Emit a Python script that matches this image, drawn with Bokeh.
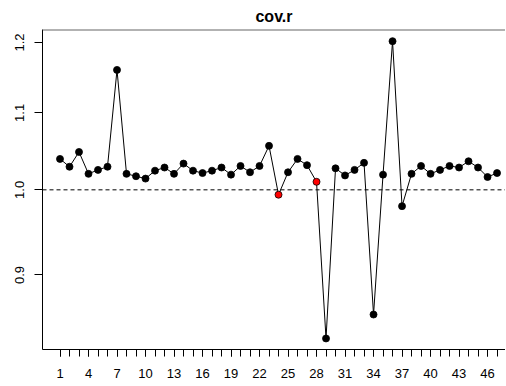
from bokeh.plotting import figure
from bokeh.models import FixedTicker, NumeralTickFormatter, Span, ColumnDataSource
from bokeh.embed import file_html
from bokeh.resources import INLINE

# ---- data ----
index = list(range(1, 48))
cov_r = [1.039, 1.029, 1.048, 1.020, 1.025, 1.029, 1.160, 1.020, 1.017, 1.014,
         1.024, 1.028, 1.020, 1.033, 1.024, 1.021, 1.024, 1.028, 1.019, 1.030,
         1.022, 1.030, 1.056, 0.994, 1.022, 1.039, 1.031, 1.010, 0.832, 1.027,
         1.018, 1.025, 1.034, 0.857, 1.019, 1.202, 0.980, 1.020, 1.030, 1.020,
         1.025, 1.030, 1.028, 1.036, 1.028, 1.016, 1.021]
flagged = [24, 28]
reference_value = 1.0
x_major_ticks = list(range(1, 48, 3))
x_minor_ticks = list(range(1, 48))
y_ticks = [0.9, 1.0, 1.1, 1.2]
title_text = "cov.r"

colors = ["red" if i in flagged else "black" for i in index]
src = ColumnDataSource(dict(x=index, y=cov_r, c=colors))

FONT = "Liberation Sans"
y_lo, y_hi = 0.8207, 1.2195

p = figure(frame_width=463, frame_height=320, output_backend="svg", toolbar_location=None,
           y_axis_type="log", x_range=(-0.842, 47.89), y_range=(y_lo, y_hi),
           min_border_left=42, min_border_right=0, min_border_top=22,
           min_border_bottom=34)
p.outline_line_color = None
p.xgrid.visible = False
p.ygrid.visible = False
p.background_fill_color = "white"
p.border_fill_color = "white"

p.title.text = title_text
p.title.align = "center"
p.title.text_font = FONT
p.title.text_font_size = "16px"
p.title.text_font_style = "bold"
p.title.text_color = "black"

# x axis
xa = p.xaxis[0]
xa.axis_label = None
xa.ticker = FixedTicker(ticks=x_major_ticks, minor_ticks=x_minor_ticks)
xa.axis_line_color = "black"
xa.major_tick_line_color = "black"
xa.minor_tick_line_color = "black"
xa.major_tick_out = 7
xa.major_tick_in = 0
xa.minor_tick_out = 7
xa.minor_tick_in = 0
xa.major_label_text_font = FONT
xa.major_label_text_font_size = "13px"
xa.major_label_text_color = "black"
xa.major_label_standoff = 12

# y axis
ya = p.yaxis[0]
ya.axis_label = None
ya.ticker = FixedTicker(ticks=y_ticks, minor_ticks=[])
ya.formatter = NumeralTickFormatter(format="0.0")
ya.axis_line_color = "black"
ya.major_tick_line_color = "black"
ya.minor_tick_line_color = None
ya.major_tick_out = 8
ya.major_tick_in = 0
ya.major_label_orientation = "vertical"
ya.major_label_text_font = FONT
ya.major_label_text_font_size = "13px"
ya.major_label_text_color = "black"
ya.major_label_standoff = 10

# top border of the box
p.add_layout(Span(location=y_hi, dimension="width", line_color="#666666", line_width=2))
# reference dashed line
p.add_layout(Span(location=reference_value, dimension="width", line_color="black",
                  line_width=1, line_dash="4 3"))

p.line("x", "y", source=src, line_color="black", line_width=1)
p.scatter("x", "y", source=src, size=7, fill_color="c", line_color="black", line_width=0.8)

open("out.html", "w").write(file_html(p, INLINE))
